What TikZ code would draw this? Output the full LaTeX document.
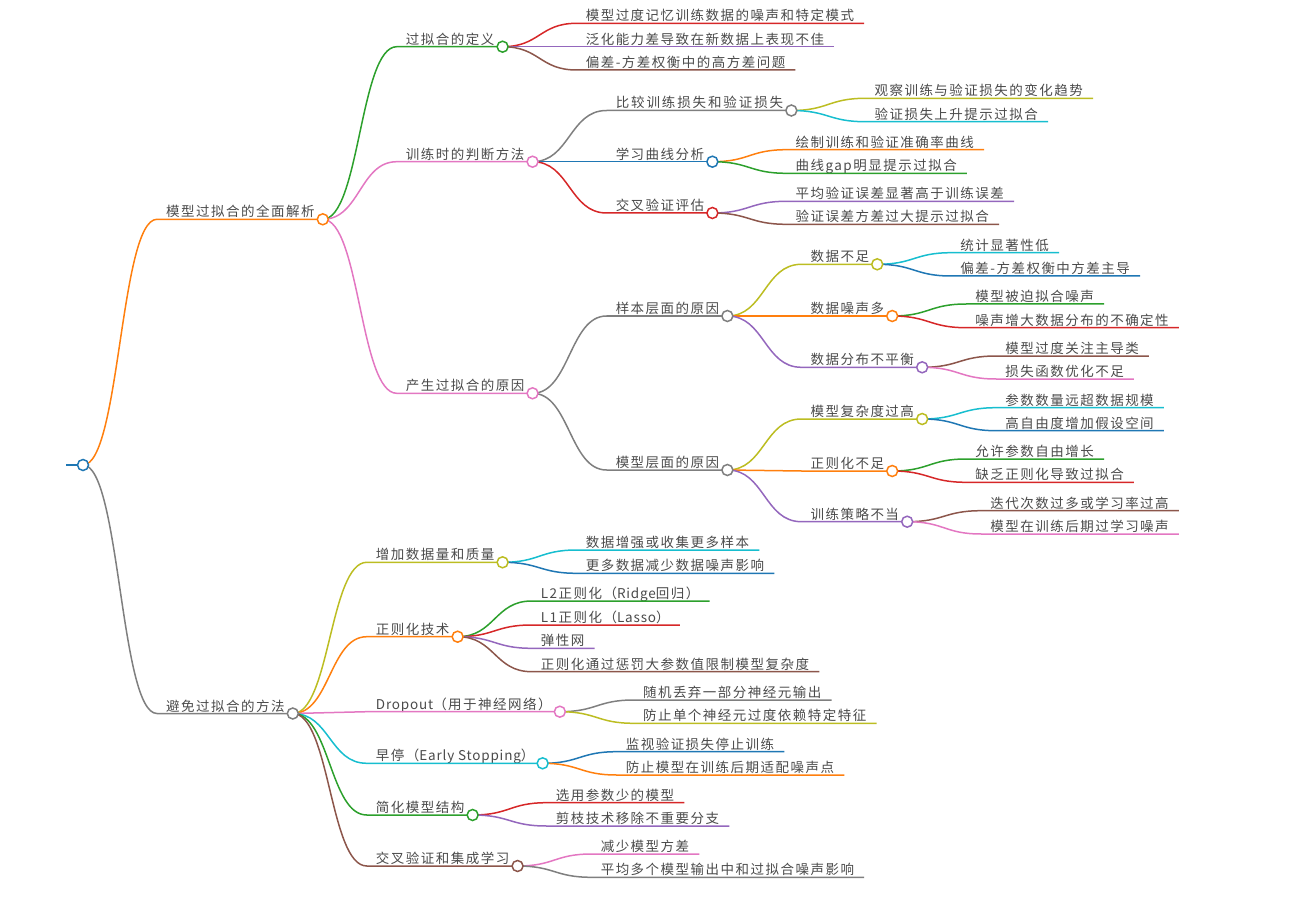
\documentclass[tikz,border=0pt]{standalone}
\usepackage{fontspec}
\newfontfamily\mmfont[LetterSpace=11]{Noto Sans CJK SC}
\newfontfamily\mmwide[LetterSpace=14]{Noto Sans CJK SC}
\newfontfamily\mmlatin[LetterSpace=6]{Noto Sans CJK SC}
\usetikzlibrary{calc}
\pgfdeclarelayer{front}
\pgfsetlayers{main,front}

\definecolor{mblue}{HTML}{1F77B4}
\definecolor{morange}{HTML}{FF7F0E}
\definecolor{mgreen}{HTML}{2CA02C}
\definecolor{mred}{HTML}{D62728}
\definecolor{mpurple}{HTML}{9467BD}
\definecolor{mbrown}{HTML}{8C564B}
\definecolor{mpink}{HTML}{E377C2}
\definecolor{mgray}{HTML}{7F7F7F}
\definecolor{molive}{HTML}{BCBD22}
\definecolor{mcyan}{HTML}{17BECF}
\definecolor{txtgray}{HTML}{4A4A4A}

\tikzset{
  mmedge/.style={line width=1.5pt},
  mmdot/.style={circle, draw, fill=white, line width=1.5pt, minimum size=11pt, inner sep=0pt},
  mmtext/.style={font=\mmfont\fontsize{13.5pt}{16pt}\selectfont, text=txtgray, inner sep=0pt, anchor=base west},
}

% #1 parent, #2 name, #3 colour, #4 y, #5 text
\newcommand\mmplace[5]{%
  \path let \p1=(#1) in (\x1+74pt,-#4pt) coordinate (#2-s);
  \node[mmtext] (#2-t) at ([xshift=9pt,yshift=2.5pt]#2-s) {#5};
}
\newcommand\mmlink[3]{%
  \draw[mmedge,#3] let \p1=(#1), \p2=(#2-s) in
    (\p1) .. controls ({(\x1+\x2)/2},\y1) and ({(\x1+\x2)/2},\y2) .. (\p2) -- (#2);
}
\newcommand\leaf[5]{%
  \mmplace{#1}{#2}{#3}{#4}{#5}%
  \path let \p1=(#2-t.base east), \p2=(#2-s) in (\x1+10pt,\y2) coordinate (#2);
  \mmlink{#1}{#2}{#3}%
}
\newcommand\branch[5]{%
  \mmplace{#1}{#2}{#3}{#4}{#5}%
  \path let \p1=(#2-t.base east), \p2=(#2-s) in (\x1+8pt,\y2) coordinate (#2);
  \mmlink{#1}{#2}{#3}%
  \begin{pgfonlayer}{front}\node[mmdot,draw=#3] (#2-c) at (#2) {};\end{pgfonlayer}
}

\begin{document}
\begin{tikzpicture}[x=1pt, y=-1pt]
  \useasboundingbox (0,0) rectangle (1294,904);
  % root
  \coordinate (root) at (83,465);
  \coordinate (root-s) at (66,465);
  \draw[mmedge,mblue] (root-s) -- (root);
  \begin{pgfonlayer}{front}\node[mmdot,draw=mblue] (root-c) at (root) {};\end{pgfonlayer}

  % first half
  \branch{root}{full}{morange}{219.3}{模型过拟合的全面解析}
  \branch{full}{defn}{mgreen}{46.7}{过拟合的定义}
  \foreach \nm/\col/\yy/\txt in {defn1/mred/23.3/模型过度记忆训练数据的噪声和特定模式,
      defn2/mpurple/46.7/泛化能力差导致在新数据上表现不佳, defn3/mbrown/70/偏差-方差权衡中的高方差问题}
    {\leaf{defn}{\nm}{\col}{\yy}{\txt}}

  \branch{full}{judge}{mpink}{161.7}{训练时的判断方法}
  \branch{judge}{cmp}{mgray}{110.5}{{\mmwide 比较训练损失和验证损失}}
  \foreach \nm/\col/\yy/\txt in {cmp1/molive/98.3/观察训练与验证损失的变化趋势, cmp2/mcyan/121.7/验证损失上升提示过拟合}
    {\leaf{cmp}{\nm}{\col}{\yy}{\txt}}
  \branch{judge}{crv}{mblue}{161.7}{学习曲线分析}
  \foreach \nm/\col/\yy/\txt in {crv1/morange/149.7/绘制训练和验证准确率曲线, crv2/mgreen/173.3/曲线gap明显提示过拟合}
    {\leaf{crv}{\nm}{\col}{\yy}{\txt}}
  \branch{judge}{cv}{mred}{213}{交叉验证评估}
  \foreach \nm/\col/\yy/\txt in {cv1/mpurple/201.3/平均验证误差显著高于训练误差, cv2/mbrown/224.3/验证误差方差过大提示过拟合}
    {\leaf{cv}{\nm}{\col}{\yy}{\txt}}

  \branch{full}{cause}{mpink}{393.3}{产生过拟合的原因}
  \branch{cause}{smp}{mgray}{316}{样本层面的原因}
  \branch{smp}{few}{molive}{264.3}{数据不足}
  \foreach \nm/\col/\yy/\txt in {few1/mcyan/252.7/统计显著性低, few2/mblue/276/偏差-方差权衡中方差主导}
    {\leaf{few}{\nm}{\col}{\yy}{\txt}}
  \branch{smp}{noise}{morange}{316}{数据噪声多}
  \foreach \nm/\col/\yy/\txt in {noise1/mgreen/304/模型被迫拟合噪声, noise2/mred/327.7/噪声增大数据分布的不确定性}
    {\leaf{noise}{\nm}{\col}{\yy}{\txt}}
  \branch{smp}{imb}{mpurple}{367.3}{数据分布不平衡}
  \foreach \nm/\col/\yy/\txt in {imb1/mbrown/356/模型过度关注主导类, imb2/mpink/379/损失函数优化不足}
    {\leaf{imb}{\nm}{\col}{\yy}{\txt}}
  \branch{cause}{mdl}{mgray}{470}{模型层面的原因}
  \branch{mdl}{cpx}{molive}{419}{模型复杂度过高}
  \foreach \nm/\col/\yy/\txt in {cpx1/mcyan/407.7/参数数量远超数据规模, cpx2/mblue/430.7/高自由度增加假设空间}
    {\leaf{cpx}{\nm}{\col}{\yy}{\txt}}
  \branch{mdl}{reg}{morange}{471}{正则化不足}
  \foreach \nm/\col/\yy/\txt in {reg1/mgreen/459/允许参数自由增长, reg2/mred/482.3/缺乏正则化导致过拟合}
    {\leaf{reg}{\nm}{\col}{\yy}{\txt}}
  \branch{mdl}{strat}{mpurple}{521.7}{训练策略不当}
  \foreach \nm/\col/\yy/\txt in {strat1/mbrown/510.7/迭代次数过多或学习率过高, strat2/mpink/534/模型在训练后期过学习噪声}
    {\leaf{strat}{\nm}{\col}{\yy}{\txt}}

  % second half
  \branch{root}{avoid}{mgray}{713.5}{避免过拟合的方法}
  \branch{avoid}{more}{molive}{562.3}{增加数据量和质量}
  \foreach \nm/\col/\yy/\txt in {more1/mcyan/550/数据增强或收集更多样本, more2/mblue/573.3/更多数据减少数据噪声影响}
    {\leaf{more}{\nm}{\col}{\yy}{\txt}}
  \branch{avoid}{regt}{morange}{636.7}{正则化技术}
  \foreach \nm/\col/\yy/\txt in {regt1/mgreen/601/L2正则化（{\mmlatin Ridge}回归）, regt2/mred/625/L1正则化（{\mmlatin Lasso}）,
      regt3/mpurple/648.3/弹性网, regt4/mbrown/671.7/正则化通过惩罚大参数值限制模型复杂度}
    {\leaf{regt}{\nm}{\col}{\yy}{\txt}}
  \branch{avoid}{drop}{mpink}{711.7}{{\mmlatin Dropout}（用于神经网络）}
  \foreach \nm/\col/\yy/\txt in {drop1/mgray/700/随机丢弃一部分神经元输出, drop2/molive/723.3/防止单个神经元过度依赖特定特征}
    {\leaf{drop}{\nm}{\col}{\yy}{\txt}}
  \branch{avoid}{stop}{mcyan}{763.3}{早停（{\mmlatin Early Stopping}）}
  \foreach \nm/\col/\yy/\txt in {stop1/mblue/751.7/监视验证损失停止训练, stop2/morange/775/防止模型在训练后期适配噪声点}
    {\leaf{stop}{\nm}{\col}{\yy}{\txt}}
  \branch{avoid}{simp}{mgreen}{815}{简化模型结构}
  \foreach \nm/\col/\yy/\txt in {simp1/mred/802.7/选用参数少的模型, simp2/mpurple/826/剪枝技术移除不重要分支}
    {\leaf{simp}{\nm}{\col}{\yy}{\txt}}
  \branch{avoid}{ens}{mbrown}{866}{交叉验证和集成学习}
  \foreach \nm/\col/\yy/\txt in {ens1/mpink/854/减少模型方差, ens2/mgray/877.3/平均多个模型输出中和过拟合噪声影响}
    {\leaf{ens}{\nm}{\col}{\yy}{\txt}}
\end{tikzpicture}
\end{document}
